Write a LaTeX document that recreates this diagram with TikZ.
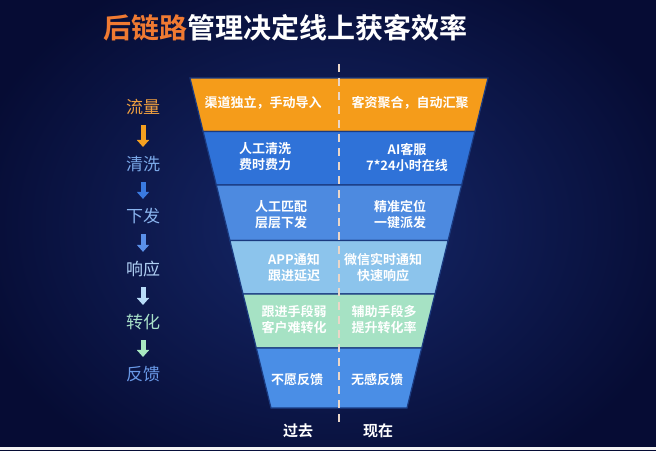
\documentclass[tikz,border=0pt]{standalone}
\usepackage{fontspec}
\setmainfont{Noto Sans CJK SC}
\newfontfamily\cjkb{Noto Sans CJK SC Bold}
\usetikzlibrary{arrows.meta}
\definecolor{bgin}{HTML}{16286A}
\definecolor{bgout}{HTML}{060C34}
\definecolor{bandA}{HTML}{F59C1A}
\definecolor{bandB}{HTML}{2F72D8}
\definecolor{bandC}{HTML}{4D8AE0}
\definecolor{bandD}{HTML}{8CC4EC}
\definecolor{bandE}{HTML}{A6E2C4}
\definecolor{bandF}{HTML}{4A8EE6}
\definecolor{sepc}{HTML}{1A3A80}
\definecolor{dashc}{HTML}{EAD6C8}
\definecolor{titleor}{HTML}{F07A32}
\definecolor{lblA}{HTML}{F0A040}
\definecolor{lblB}{HTML}{7AA8E8}
\definecolor{lblC}{HTML}{8AB4EE}
\definecolor{lblD}{HTML}{B0D0F4}
\definecolor{lblE}{HTML}{A8E0C8}
\definecolor{lblF}{HTML}{6A9AE8}
\definecolor{arrA}{HTML}{F5A020}
\definecolor{arrB}{HTML}{3A7AE0}
\definecolor{arrC}{HTML}{5A90E8}
\definecolor{arrD}{HTML}{B8DCF8}
\definecolor{arrE}{HTML}{A8E8C0}
\tikzset{
  band/.style={line width=1.2pt, draw=sepc},
  btxt/.style={text=white, font=\cjkb\fontsize{13}{16}\selectfont, align=center, inner sep=0pt},
  stage/.style={font=\fontsize{17}{20}\selectfont, inner sep=1pt},
  flowarrow/.style={line width=5pt, -{Triangle[width=12pt,length=7pt]}, shorten >=8pt, shorten <=9pt},
  bottomlbl/.style={text=white, font=\cjkb\fontsize{15}{18}\selectfont, inner sep=0pt},
}
\begin{document}
\begin{tikzpicture}[x=1pt,y=-1pt]
\useasboundingbox (0,0) rectangle (656,450);
\shade[inner color=bgin, outer color=bgout] (-40,-60) rectangle (696,510);
\fill[white!92!gray] (0,447) rectangle (656,450);
% bands
\path[band, fill=bandA] (190,78) -- (488,78) -- (474.9,131.5) -- (203.1,131.5) -- cycle;
\path[band, fill=bandB] (203.1,131.5) -- (474.9,131.5) -- (461.7,185) -- (216.3,185) -- cycle;
\path[band, fill=bandC] (216.3,185) -- (461.7,185) -- (448.1,240.5) -- (229.9,240.5) -- cycle;
\path[band, fill=bandD] (229.9,240.5) -- (448.1,240.5) -- (435.0,294) -- (243.0,294) -- cycle;
\path[band, fill=bandE] (243.0,294) -- (435.0,294) -- (421.7,348) -- (256.3,348) -- cycle;
\path[band, fill=bandF] (256.3,348) -- (421.7,348) -- (407.0,408) -- (271.0,408) -- cycle;
% dashed centre line
\coordinate (dtop) at (339,64);
\coordinate (dbot) at (339,424);
\draw[dashc, line width=2.2pt, dash pattern=on 8pt off 6pt] (dtop) -- (dbot);
% title
\node[anchor=west, inner sep=0pt, font=\cjkb\fontsize{28}{31}\selectfont] (title) at (103,28)
  {\textcolor{titleor}{后链路}\textcolor{white}{管理决定线上获客效率}};
% band texts
\node[btxt] (a1) at (263,103) {渠道独立，手动导入};
\node[btxt] (a2) at (410,103) {客资聚合，自动汇聚};
\node[btxt] (b1) at (265,157) {人工清洗\\费时费力};
\node[btxt] (b2) at (407,157) {AI客服\\7*24小时在线};
\node[btxt] (c1) at (281,215) {人工匹配\\层层下发};
\node[btxt] (c2) at (400,215) {精准定位\\一键派发};
\node[btxt] (d1) at (294,268) {APP通知\\跟进延迟};
\node[btxt] (d2) at (383,268) {微信实时通知\\快速响应};
\node[btxt] (e1) at (294,320) {跟进手段弱\\客户难转化};
\node[btxt] (e2) at (384,320) {辅助手段多\\提升转化率};
\node[btxt] (f1) at (297,380) {不愿反馈};
\node[btxt] (f2) at (377,380) {无感反馈};
% bottom labels
\node[bottomlbl] (past) at (298,431) {过去};
\node[bottomlbl] (now) at (378,431) {现在};
% stage labels
\node[stage, text=lblA] (s1) at (143,107) {流量};
\node[stage, text=lblB] (s2) at (143,164) {清洗};
\node[stage, text=lblC] (s3) at (143,216) {下发};
\node[stage, text=lblD] (s4) at (143,269) {响应};
\node[stage, text=lblE] (s5) at (143,322) {转化};
\node[stage, text=lblF] (s6) at (143,374) {反馈};
\draw[flowarrow, arrA] (s1) -- (s2);
\draw[flowarrow, arrB] (s2) -- (s3);
\draw[flowarrow, arrC] (s3) -- (s4);
\draw[flowarrow, arrD] (s4) -- (s5);
\draw[flowarrow, arrE] (s5) -- (s6);
\end{tikzpicture}
\end{document}
